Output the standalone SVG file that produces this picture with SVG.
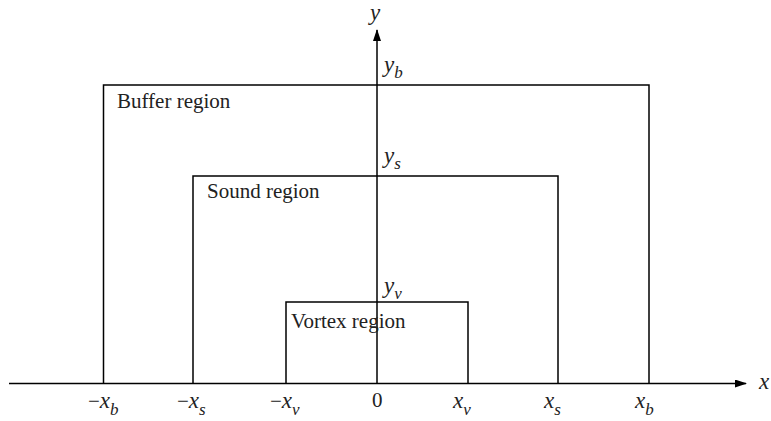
<svg xmlns="http://www.w3.org/2000/svg" width="771" height="421" viewBox="0 0 771 421">
  <style>
    .ln { stroke: #000; stroke-width: 1.5; fill: none; }
    .ax { stroke: #000; stroke-width: 1.5; fill: none; }
    text { font-family: "Liberation Serif", "Times New Roman", serif; fill: #222; }
    .lbl { font-size: 21px; }
    .v { font-size: 23px; font-style: italic; }
    .sub { font-size: 17px; font-style: italic; }
  </style>
  <defs>
    <marker id="arr" markerWidth="12" markerHeight="8" refX="11" refY="4" orient="auto" markerUnits="userSpaceOnUse">
      <path d="M0,0 L12,4 L0,8 Z" fill="#000"/>
    </marker>
  </defs>

  <g id="axes">
    <line class="ax" x1="9" y1="383.5" x2="746" y2="383.5" marker-end="url(#arr)"/>
    <line class="ax" x1="377" y1="383.5" x2="377" y2="30" marker-end="url(#arr)"/>
    <text class="v" x="759" y="389">x</text>
    <text class="v" x="370" y="20">y</text>
  </g>

  <g id="buffer">
    <polyline class="ln" points="103.5,383.5 103.5,85 649,85 649,383.5"/>
    <text class="lbl" x="117" y="108">Buffer region</text>
  </g>
  <g id="sound">
    <polyline class="ln" points="193,383.5 193,176 558,176 558,383.5"/>
    <text class="lbl" x="207" y="198">Sound region</text>
  </g>
  <g id="vortex">
    <polyline class="ln" points="286,383.5 286,302 468,302 468,383.5"/>
    <text class="lbl" x="291" y="328">Vortex region</text>
  </g>

  <g id="y-labels">
    <text x="384" y="72"><tspan class="v">y</tspan><tspan class="sub" dy="6">b</tspan></text>
    <text x="384" y="163"><tspan class="v">y</tspan><tspan class="sub" dy="6">s</tspan></text>
    <text x="384" y="293"><tspan class="v">y</tspan><tspan class="sub" dy="6">v</tspan></text>
  </g>

  <g id="x-labels">
    <text x="88" y="408"><tspan class="lbl">−</tspan><tspan class="v">x</tspan><tspan class="sub" dy="7">b</tspan></text>
    <text x="177" y="408"><tspan class="lbl">−</tspan><tspan class="v">x</tspan><tspan class="sub" dy="7">s</tspan></text>
    <text x="270" y="408"><tspan class="lbl">−</tspan><tspan class="v">x</tspan><tspan class="sub" dy="7">v</tspan></text>
    <text class="lbl" x="372" y="407">0</text>
    <text x="453" y="408"><tspan class="v">x</tspan><tspan class="sub" dy="7">v</tspan></text>
    <text x="544" y="408"><tspan class="v">x</tspan><tspan class="sub" dy="7">s</tspan></text>
    <text x="635" y="408"><tspan class="v">x</tspan><tspan class="sub" dy="7">b</tspan></text>
  </g>
</svg>
